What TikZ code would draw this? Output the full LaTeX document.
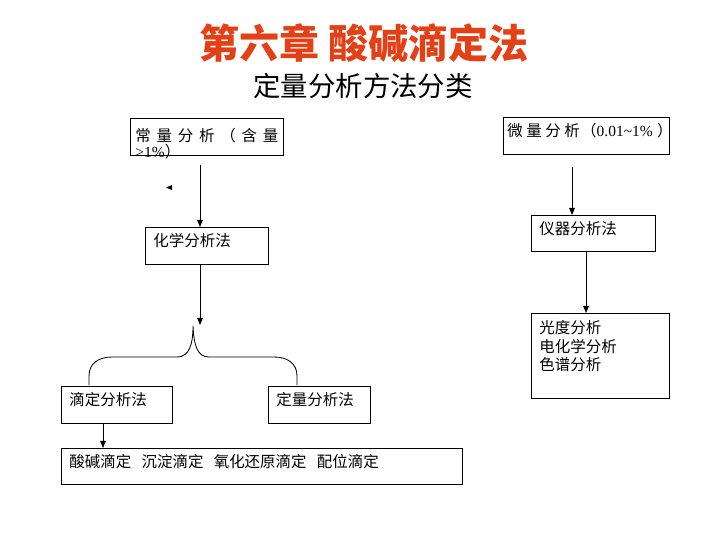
\documentclass[tikz,border=0pt]{standalone}
\usepackage{fontspec}
\setmainfont{Noto Sans CJK SC}
\newfontfamily\latinfont{Liberation Serif}
\usepackage{xcolor}
\usepackage{tikz}
\usetikzlibrary{arrows.meta, calc, positioning}
\definecolor{titlered}{RGB}{228,64,22}

\begin{document}
\begin{tikzpicture}[x=0.025cm, y=-0.025cm, >={Triangle[length=5pt,width=4pt]}, font=\fontsize{11}{13}\selectfont,
    box/.style={draw, line width=0.6pt, anchor=north west, align=left, inner xsep=0.2cm, inner ysep=2pt, text height=11.8pt, text depth=10.5pt},
    link/.style={->, line width=0.6pt}]
  \useasboundingbox (0,0) rectangle (720,540);
  % titles
  \node[text=titlered, font=\fontsize{28.5}{31}\selectfont\bfseries] (title) at (364,43) {第六章 酸碱滴定法};
  \node[font=\fontsize{19.5}{22}\selectfont] (subtitle) at (363,86) {定量分析方法分类};
  % left branch
  \node[box, minimum width=3.825cm, text width=3.575cm, inner xsep=0.125cm, font=\fontsize{11}{12}\selectfont, text height=14.6pt, text depth=7.7pt] (major) at (130,118)
    {常\hfill 量\hfill 分\hfill 析\hfill （\hfill 含\hfill 量\\[-1pt]{\latinfont >1\%}）};
  \node[box, minimum width=3.075cm, text width=2.675cm] (chem) at (145,227) {化学分析法};
  \node[box, minimum width=2.775cm, text width=2.375cm] (titr) at (61,386) {滴定分析法};
  \node[box, minimum width=2.55cm, text width=2.15cm] (quant) at (268,386) {定量分析法};
  \node[box, minimum width=10.025cm, text width=9.625cm, text depth=9.8pt] (types) at (61,448) {酸碱滴定\ \ 沉淀滴定\ \ 氧化还原滴定\ \ 配位滴定};
  % right branch
  \node[box, minimum width=4.15cm, text width=3.95cm, inner xsep=0.1cm] (micro) at (503,117)
    {\mbox{微\hspace{2.5pt}量\hspace{2.5pt}分\hspace{2.5pt}析\hspace{1pt}（{\latinfont 0.01\textasciitilde1\%}\hspace{3pt}）}};
  \node[box, minimum width=3.1cm, text width=2.7cm, text depth=9.8pt] (instr) at (531,215) {仪器分析法};
  \node[box, minimum width=3.45cm, text width=3.05cm, font=\fontsize{11}{13}\selectfont, text height=12.5pt, text depth=43.9pt] (meth) at (531,313) {光度分析\\电化学分析\\色谱分析};
  % connectors
  \coordinate (startL) at (200,165);
  \coordinate (tip) at (193,326);
  \coordinate (startR) at (572,167);
  \coordinate (midR) at (586,251);
  \draw[link] (startL) -- (startL |- chem.north);
  \draw[link] (startL |- chem.south) -- (startL |- 0,325);
  \draw[line width=0.6pt] ($(titr.north west)+(28,-1)$) -- (89,376) .. controls (89,363) and (99,357) .. (112,357) -- (177,357)
    .. controls (189,357) and (193,345) .. (tip)
    .. controls (194,345) and (197,357) .. (209,357) -- (274,357) .. controls (287,357) and (297,363) .. (297,376) -- ($(quant.north west)+(29,-1)$);
  \draw[link] ($(titr.south west)+(42,0)$) -- ($(types.north west)+(42,0)$);
  \draw[link] (startR) -- (startR |- instr.north);
  \draw[link] (midR) -- (midR |- meth.north);
  % stray tip
  \fill (166,187.5) -- (172,185) -- (172,190) -- cycle;
\end{tikzpicture}
\end{document}
